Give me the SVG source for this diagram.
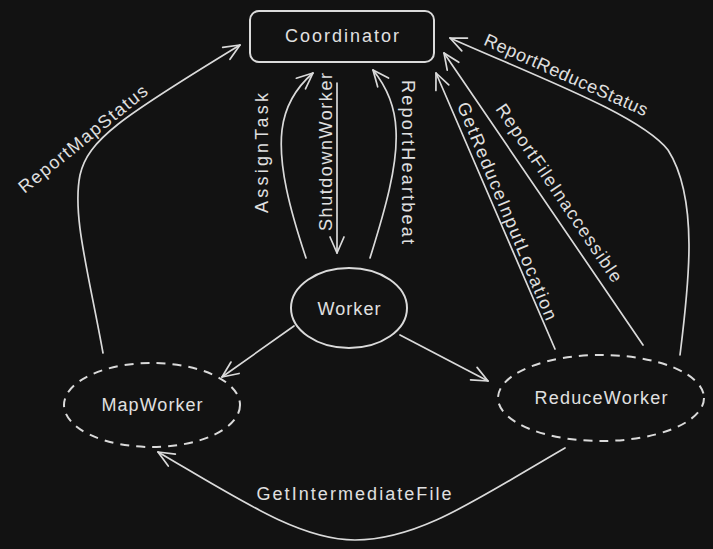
<svg xmlns="http://www.w3.org/2000/svg" width="713" height="549" viewBox="0 0 713 549">
  <style>
    .shape { fill: none; stroke: #dadada; stroke-width: 2; }
    .dashed { stroke-dasharray: 9 7; }
    .conn { fill: none; stroke: #dadada; stroke-width: 1.7; stroke-linecap: round; marker-end: url(#ah); }
    .lbl { font-family: "Liberation Sans", "DejaVu Sans", sans-serif; font-size: 18px; fill: #e0e0e0; text-anchor: middle; dominant-baseline: central; }
  </style>
  <defs>
    <marker id="ah" markerUnits="userSpaceOnUse" markerWidth="40" markerHeight="40" viewBox="-20 -20 40 40" refX="0" refY="0" orient="auto" overflow="visible">
      <path d="M-16,-7 L0,0 L-16,7" fill="none" stroke="#dadada" stroke-width="1.7" stroke-linecap="round" stroke-linejoin="round"/>
    </marker>
  </defs>
  <rect width="713" height="549" fill="#121212"/>

  <g id="connectors">
    <g id="e-reportmapstatus">
      <path class="conn" d="M103,353 C 88,270 72,215 80,175 C 88,140 120,118 240,45"/>
      <text class="lbl" transform="translate(83,139) rotate(-39)" textLength="160" lengthAdjust="spacing">ReportMapStatus</text>
    </g>
    <g id="e-assigntask">
      <path class="conn" d="M306,258 C 290,210 278,165 282,130 C 285,105 298,86 313,73"/>
      <text class="lbl" transform="translate(262,153) rotate(-90)" textLength="120" lengthAdjust="spacing">AssignTask</text>
    </g>
    <g id="e-shutdownworker">
      <path class="conn" d="M337,83 L337,253"/>
      <text class="lbl" transform="translate(326,152) rotate(-90)" textLength="158" lengthAdjust="spacing">ShutdownWorker</text>
    </g>
    <g id="e-reportheartbeat">
      <path class="conn" d="M370,258 C 385,210 398,165 396,130 C 395,105 386,86 373,70"/>
      <text class="lbl" transform="translate(408,162) rotate(90)" textLength="164" lengthAdjust="spacing">ReportHeartbeat</text>
    </g>
    <g id="e-worker-map">
      <path class="conn" d="M294,326 L222,377"/>
    </g>
    <g id="e-worker-reduce">
      <path class="conn" d="M400,335 L488,381"/>
    </g>
    <g id="e-getintermediatefile">
      <path class="conn" d="M565,448 C 480,497 420,540 355,540 C 300,540 240,500 158,452"/>
      <text class="lbl" x="354" y="494" textLength="195" lengthAdjust="spacing">GetIntermediateFile</text>
    </g>
    <g id="e-getreduceinputlocation">
      <path class="conn" d="M555,349 L436,73"/>
      <text class="lbl" transform="translate(507,211) rotate(67.5)" textLength="234" lengthAdjust="spacing">GetReduceInputLocation</text>
    </g>
    <g id="e-reportfileinaccessible">
      <path class="conn" d="M643,345 L444,53"/>
      <text class="lbl" transform="translate(559,193) rotate(56)" textLength="211" lengthAdjust="spacing">ReportFileInaccessible</text>
    </g>
    <g id="e-reportreducestatus">
      <path class="conn" d="M680,355 C 688,290 700,200 668,150 C 640,115 540,78 450,38"/>
      <text class="lbl" transform="translate(566,75) rotate(24)" textLength="177" lengthAdjust="spacing">ReportReduceStatus</text>
    </g>
  </g>

  <g id="coordinator">
    <rect class="shape" x="250" y="11" width="184" height="51" rx="9"/>
    <text class="lbl" x="342" y="36" textLength="114" lengthAdjust="spacing">Coordinator</text>
  </g>
  <g id="worker">
    <ellipse class="shape" cx="349" cy="308" rx="58" ry="40"/>
    <text class="lbl" x="349" y="309" textLength="63" lengthAdjust="spacing">Worker</text>
  </g>
  <g id="mapworker">
    <ellipse class="shape dashed" cx="152" cy="405" rx="88" ry="42"/>
    <text class="lbl" x="152" y="405" textLength="101" lengthAdjust="spacing">MapWorker</text>
  </g>
  <g id="reduceworker">
    <ellipse class="shape dashed" cx="601" cy="398" rx="103" ry="43"/>
    <text class="lbl" x="601" y="398" textLength="133" lengthAdjust="spacing">ReduceWorker</text>
  </g>
</svg>
